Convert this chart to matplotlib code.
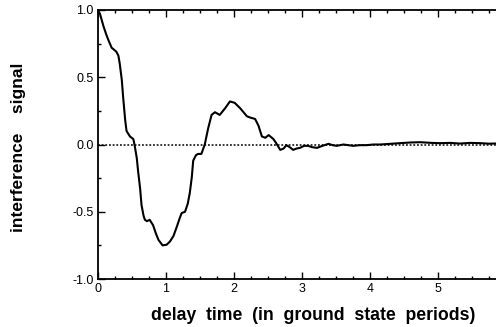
import numpy as np
import matplotlib.pyplot as plt
from matplotlib.ticker import MultipleLocator

# interference signal vs delay time
delay = [0.00, 0.03, 0.08, 0.12, 0.15, 0.20, 0.27, 0.30, 0.32, 0.35, 0.37, 0.40, 0.42,
         0.47, 0.52, 0.54, 0.57, 0.59, 0.62, 0.64, 0.67, 0.69, 0.72, 0.76, 0.81,
         0.85, 0.89, 0.95, 1.01, 1.06, 1.11, 1.16, 1.20, 1.23, 1.28, 1.32, 1.35,
         1.38, 1.40, 1.44, 1.47, 1.52, 1.57, 1.62, 1.67, 1.72, 1.79, 1.87,
         1.94, 2.01, 2.09, 2.19, 2.24, 2.31, 2.36, 2.41, 2.46, 2.51, 2.58, 2.62,
         2.68, 2.73, 2.77, 2.82, 2.87, 2.92, 2.97, 3.03, 3.09, 3.15, 3.22, 3.30,
         3.39, 3.45, 3.51, 3.61, 3.68, 3.75, 3.85, 3.95, 4.05, 4.15, 4.30, 4.44,
         4.60, 4.74, 4.90, 5.03, 5.18, 5.32, 5.47, 5.62, 5.75, 5.90, 6.00]
signal = [1.00, 0.97, 0.88, 0.82, 0.78, 0.72, 0.69, 0.66, 0.60, 0.48, 0.35, 0.18, 0.10,
          0.06, 0.04, -0.01, -0.10, -0.20, -0.33, -0.45, -0.53, -0.56, -0.57, -0.56, -0.60,
          -0.66, -0.71, -0.75, -0.745, -0.72, -0.68, -0.61, -0.55, -0.51, -0.50, -0.44, -0.36,
          -0.24, -0.12, -0.08, -0.07, -0.07, 0.00, 0.12, 0.22, 0.24, 0.22, 0.27,
          0.32, 0.31, 0.27, 0.21, 0.20, 0.19, 0.14, 0.06, 0.05, 0.07, 0.04, 0.01,
          -0.04, -0.03, -0.005, -0.02, -0.04, -0.03, -0.025, -0.01, -0.01, -0.02, -0.025, -0.01,
          0.005, -0.005, -0.01, 0.00, -0.005, -0.01, -0.005, -0.005, 0.00, 0.00, 0.005, 0.01,
          0.015, 0.017, 0.012, 0.01, 0.012, 0.007, 0.012, 0.01, 0.006, 0.008, 0.006]

xticks = [0, 1, 2, 3, 4, 5]
yticks = [-1.0, -0.5, 0.0, 0.5, 1.0]
ytick_labels = ['-1.0', '-0.5', '0.0', '0.5', '1.0']

plt.rcParams['font.family'] = ['Liberation Sans', 'DejaVu Sans']

fig = plt.figure(figsize=(4.96, 3.27), dpi=100)
# the original is cropped on the right, so the axes run past the edge
ax = fig.add_axes([98 / 496, 48 / 327, 408 / 496, 269 / 327])

ax.plot(delay, signal, color='black', lw=1.5)
ax.axhline(0, color='black', lw=1.1, ls=(0, (1.2, 1.2)))

ax.set_xlim(0, 6)
ax.set_ylim(-1, 1)
ax.set_xticks(xticks)
ax.set_yticks(yticks)
ax.set_yticklabels(ytick_labels)
ax.xaxis.set_minor_locator(MultipleLocator(0.25))
ax.yaxis.set_minor_locator(MultipleLocator(0.25))
ax.tick_params(which='both', direction='in', top=True, right=False,
               labelsize=9, width=1, pad=3)
ax.tick_params(which='major', length=5)
ax.tick_params(which='minor', length=2.5)
ax.spines['right'].set_visible(False)
for s in ['left', 'bottom', 'top']:
    ax.spines[s].set_linewidth(1.3)

ax.set_xlabel('delay  time  (in  ground  state  periods)', fontsize=12.7,
              fontweight='bold')
ax.xaxis.set_label_coords((313 - 98) / 408, -0.105)
ax.set_ylabel('interference    signal', fontsize=12.5, fontweight='bold')
ax.yaxis.set_label_coords(-(98 - 26) / 408, 0.49)

fig.savefig('out.png', dpi=100)
